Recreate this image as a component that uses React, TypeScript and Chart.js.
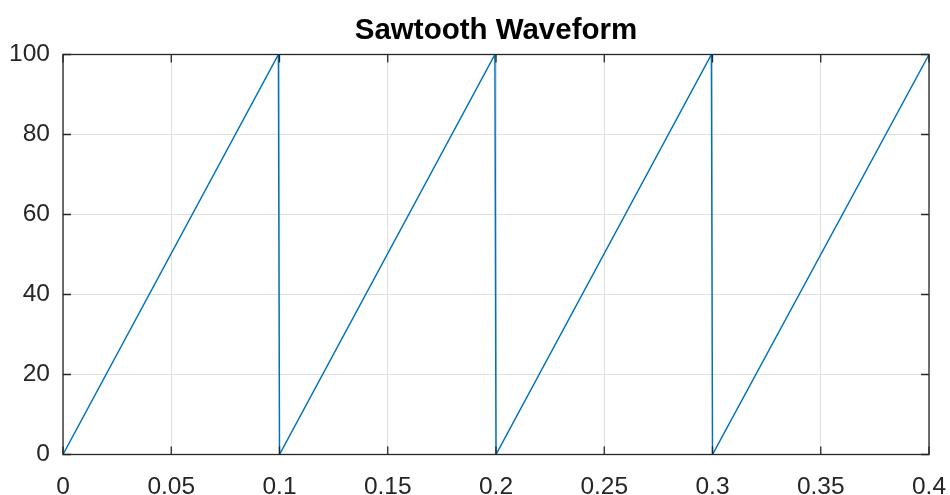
import React, { useEffect, useRef } from "react";
import { Chart, registerables } from "chart.js";

Chart.register(...registerables);

const titleText = "Sawtooth Waveform";
const timeValues = [0, 0.0995, 0.1, 0.1995, 0.2, 0.2995, 0.3, 0.4];
const amplitudeValues = [0, 100, 0, 100, 0, 100, 0, 100];
const xTickValues = [0, 0.05, 0.1, 0.15, 0.2, 0.25, 0.3, 0.35, 0.4];
const yTickValues = [0, 20, 40, 60, 80, 100];

const AXIS_COLOR = "#262626";
const GRID_COLOR = "#e0e0e0";
const LINE_COLOR = "#0072BD";
const FONT = "'Liberation Sans', Arial, Helvetica, sans-serif";

const boxPlugin = {
  id: "matlabBox",
  afterDatasetsDraw(chart: any) {
    const { ctx, chartArea } = chart;
    const { left, right, top, bottom } = chartArea;
    const xs = chart.scales.x;
    const ys = chart.scales.y;
    const tl = 8;
    ctx.save();
    ctx.strokeStyle = AXIS_COLOR;
    ctx.lineWidth = 1.3;
    ctx.beginPath();
    for (const v of xTickValues) {
      const px = xs.getPixelForValue(v);
      ctx.moveTo(px, bottom);
      ctx.lineTo(px, bottom - tl);
      ctx.moveTo(px, top);
      ctx.lineTo(px, top + tl);
    }
    for (const v of yTickValues) {
      const py = ys.getPixelForValue(v);
      ctx.moveTo(left, py);
      ctx.lineTo(left + tl, py);
      ctx.moveTo(right, py);
      ctx.lineTo(right - tl, py);
    }
    ctx.stroke();
    ctx.strokeRect(left, top, right - left, bottom - top);
    ctx.restore();
  },
};

export default function App() {
  const canvasRef = useRef<HTMLCanvasElement | null>(null);

  useEffect(() => {
    document.body.style.margin = "0";
    const canvas = canvasRef.current;
    if (!canvas) return;
    const chart = new Chart(canvas, {
      type: "line",
      data: {
        datasets: [
          {
            data: timeValues.map((t, i) => ({ x: t, y: amplitudeValues[i] })),
            borderColor: LINE_COLOR,
            borderWidth: 1.5,
            pointRadius: 0,
            tension: 0,
            fill: false,
          },
        ],
      },
      options: {
        animation: false,
        responsive: false,
        devicePixelRatio: 1,
        layout: { padding: { left: 0, right: 21, top: 0, bottom: 0 } },
        plugins: {
          legend: { display: false },
          tooltip: { enabled: false },
          title: {
            display: true,
            fullSize: false,
            text: titleText,
            color: "#000000",
            font: { family: FONT, size: 29.5, weight: "bold", lineHeight: 1.2 },
            padding: { top: 13, bottom: 6.1 },
          },
        },
        scales: {
          x: {
            type: "linear",
            min: 0,
            max: 0.4,
            afterFit(scale: any) {
              scale.height = 40.5;
              scale.paddingLeft = 0;
              scale.paddingRight = 0;
            },
            afterBuildTicks(scale: any) {
              scale.ticks = xTickValues.map((v) => ({ value: v }));
            },
            grid: {
              display: true,
              color: GRID_COLOR,
              lineWidth: 1,
              drawTicks: false,
            },
            border: { display: false },
            ticks: {
              autoSkip: false,
              maxRotation: 0,
              padding: 18,
              color: AXIS_COLOR,
              font: { family: FONT, size: 24.5 },
              callback: (v: any) => String(Number(Number(v).toFixed(2))),
            },
          },
          y: {
            type: "linear",
            min: 0,
            max: 100,
            afterFit(scale: any) {
              scale.width = 63;
              scale.paddingTop = 0;
              scale.paddingBottom = 0;
            },
            afterBuildTicks(scale: any) {
              scale.ticks = yTickValues.map((v) => ({ value: v }));
            },
            grid: {
              display: true,
              color: GRID_COLOR,
              lineWidth: 1,
              drawTicks: false,
            },
            border: { display: false },
            ticks: {
              autoSkip: false,
              padding: 13,
              color: AXIS_COLOR,
              font: { family: FONT, size: 24.5 },
              callback: (v: any) => String(v),
            },
          },
        },
      },
      plugins: [boxPlugin],
    });
    return () => chart.destroy();
  }, []);

  return (
    <div style={{ width: 950, height: 495, background: "#ffffff" }}>
      <canvas ref={canvasRef} width={950} height={495} style={{ width: 950, height: 495, display: "block" }} />
    </div>
  );
}
